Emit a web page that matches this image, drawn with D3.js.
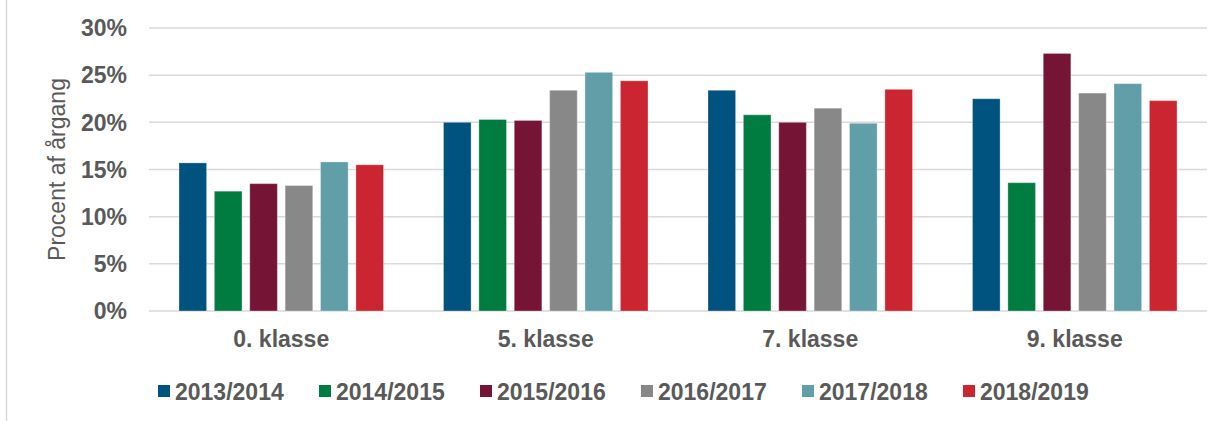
<!DOCTYPE html>
<html>
<head>
<meta charset="utf-8">
<script src="https://cdn.jsdelivr.net/npm/d3@7"></script>
<style>
  body { margin: 0; background: #fff; }
  svg { display: block; font-family: "Liberation Sans", Arial, sans-serif; }
</style>
</head>
<body>
<svg id="chart" width="1229" height="421"></svg>
<script>
"use strict";

// Data
const categories = ["0. klasse", "5. klasse", "7. klasse", "9. klasse"];
const seriesNames = ["2013/2014", "2014/2015", "2015/2016", "2016/2017", "2017/2018", "2018/2019"];
const seriesColors = ["#00527f", "#007c41", "#751434", "#888888", "#609ea8", "#cc2532"];
const values = [
  // one row per series, one value per category (%)
  [15.7, 20.0, 23.4, 22.5],
  [12.7, 20.3, 20.8, 13.6],
  [13.5, 20.2, 20.0, 27.3],
  [13.3, 23.4, 21.5, 23.1],
  [15.8, 25.3, 19.9, 24.1],
  [15.5, 24.4, 23.5, 22.3]
];
const yTicks = [0, 5, 10, 15, 20, 25, 30];

const svg = d3.select("#chart");
const textColor = "#595959";
const gridColor = "#d9d9d9";

// left frame line
svg.append("line")
  .attr("x1", 6.5).attr("x2", 6.5)
  .attr("y1", 0).attr("y2", 421)
  .attr("stroke", gridColor).attr("stroke-width", 1.5);

const x0 = d3.scaleBand().domain(categories).range([149, 1207]);
const bw = x0.bandwidth();
const x1 = d3.scaleBand().domain(seriesNames)
  .range([bw * 0.1134, bw * (1 - 0.1134)])
  .paddingInner(0.22);
const y = d3.scaleLinear().domain([0, 30]).range([311, 28]);

// gridlines
svg.append("g")
  .selectAll("line")
  .data(yTicks)
  .join("line")
  .attr("x1", 149).attr("x2", 1207)
  .attr("y1", d => y(d)).attr("y2", d => y(d))
  .attr("stroke", gridColor).attr("stroke-width", 1.5);

// y tick labels
svg.append("g")
  .selectAll("text")
  .data(yTicks)
  .join("text")
  .attr("x", 127)
  .attr("y", d => y(d))
  .attr("dy", "0.36em")
  .attr("text-anchor", "end")
  .attr("font-size", 23)
  .attr("font-weight", "bold")
  .attr("fill", textColor)
  .text(d => d + "%");

// y axis title
svg.append("text")
  .attr("transform", `translate(65, ${y(15)}) rotate(-90)`)
  .attr("text-anchor", "middle")
  .attr("font-size", 23)
  .attr("fill", textColor)
  .text("Procent af årgang");

// bars
const groups = svg.append("g")
  .selectAll("g")
  .data(categories)
  .join("g")
  .attr("transform", d => `translate(${x0(d)},0)`);

groups.selectAll("rect")
  .data((c, ci) => seriesNames.map((s, si) => ({ s, si, v: values[si][ci] })))
  .join("rect")
  .attr("x", d => x1(d.s))
  .attr("y", d => y(d.v))
  .attr("width", x1.bandwidth())
  .attr("height", d => y(0) - y(d.v))
  .attr("fill", d => seriesColors[d.si])
  .attr("stroke", "rgba(255,255,255,0.3)")
  .attr("stroke-width", 1);

// category labels
svg.append("g")
  .selectAll("text")
  .data(categories)
  .join("text")
  .attr("x", d => x0(d) + bw / 2)
  .attr("y", 347)
  .attr("text-anchor", "middle")
  .attr("font-size", 23)
  .attr("font-weight", "bold")
  .attr("fill", textColor)
  .text(d => d);

// legend
const legend = svg.append("g")
  .selectAll("g")
  .data(seriesNames)
  .join("g")
  .attr("transform", (d, i) => `translate(${158 + i * 161}, 385)`);

legend.append("rect")
  .attr("width", 12).attr("height", 12)
  .attr("fill", (d, i) => seriesColors[i]);

legend.append("text")
  .attr("x", 17)
  .attr("y", 14.5)
  .attr("font-size", 23)
  .attr("font-weight", "bold")
  .attr("fill", textColor)
  .text(d => d);
</script>
</body>
</html>
